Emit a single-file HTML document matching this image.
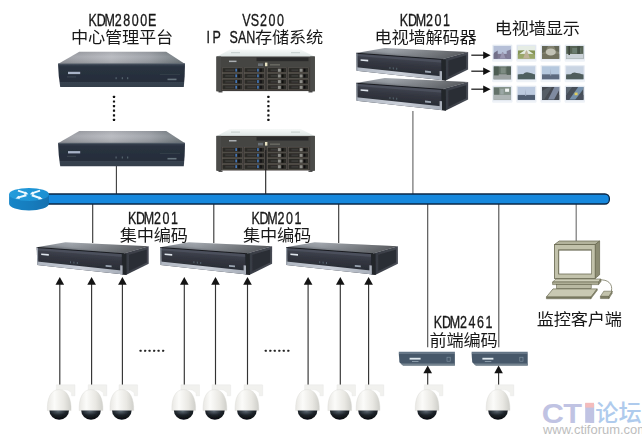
<!DOCTYPE html>
<html lang="zh"><head><meta charset="utf-8"><title>KDM 监控系统组网图</title>
<style>
html,body{margin:0;padding:0;background:#fff;}
body{width:642px;height:434px;overflow:hidden;font-family:"Liberation Sans","Noto Sans CJK SC",sans-serif;}
svg{display:block;}
.la{font-family:"Liberation Sans","Noto Sans CJK SC",sans-serif;fill:#161616;stroke:#161616;stroke-width:.3px;vector-effect:non-scaling-stroke;}
.zh{font-family:"Liberation Sans","Noto Sans CJK SC",sans-serif;fill:#161616;}
</style></head><body>
<svg width="642" height="434" viewBox="0 0 642 434">
<defs>
<linearGradient id="gLid" x1="0" y1="0" x2="1" y2="0"><stop offset="0" stop-color="#96989f"/><stop offset=".42" stop-color="#b7b9bf"/><stop offset=".72" stop-color="#9da1a8"/><stop offset="1" stop-color="#6b7479"/></linearGradient>
<linearGradient id="gLidV" x1="0" y1="0" x2="0" y2="1"><stop offset="0" stop-color="#000" stop-opacity=".07"/><stop offset=".4" stop-color="#fff" stop-opacity=".06"/><stop offset="1" stop-color="#000" stop-opacity=".13"/></linearGradient>
<filter id="soft" x="-5%" y="-10%" width="110%" height="120%"><feGaussianBlur stdDeviation=".4"/></filter>
<linearGradient id="gFront" x1="0" y1="0" x2="0" y2="1"><stop offset="0" stop-color="#3a4453"/><stop offset=".14" stop-color="#2a3240"/><stop offset=".77" stop-color="#252d3a"/><stop offset=".79" stop-color="#37424f"/><stop offset="1" stop-color="#343e4b"/></linearGradient>
<linearGradient id="gSLid" x1="0" y1="0" x2="0" y2="1"><stop offset="0" stop-color="#f6f9f8"/><stop offset="1" stop-color="#dde5e4"/></linearGradient>
<linearGradient id="gTop201" gradientUnits="userSpaceOnUse" x1="92" y1="243" x2="91" y2="252"><stop offset="0" stop-color="#a9aeb5"/><stop offset=".7" stop-color="#92979e"/><stop offset="1" stop-color="#70757c"/></linearGradient>
<linearGradient id="gTop201H" gradientUnits="userSpaceOnUse" x1="72" y1="0" x2="148" y2="0"><stop offset="0" stop-color="#000" stop-opacity="0"/><stop offset="1" stop-color="#000" stop-opacity=".5"/></linearGradient>
<linearGradient id="gFront201" gradientUnits="userSpaceOnUse" x1="80" y1="250" x2="78.6" y2="270"><stop offset="0" stop-color="#434753"/><stop offset=".45" stop-color="#333640"/><stop offset="1" stop-color="#272a32"/></linearGradient>
<linearGradient id="gSide201" x1="0" y1="0" x2="1" y2="0"><stop offset="0" stop-color="#363a42"/><stop offset="1" stop-color="#474b54"/></linearGradient>
<linearGradient id="gSilver" x1="0" y1="0" x2="1" y2="0"><stop offset="0" stop-color="#aeb5c0"/><stop offset=".5" stop-color="#cbd0d9"/><stop offset="1" stop-color="#a6adb8"/></linearGradient>
<linearGradient id="gCam" x1="0" y1="0" x2="1" y2="0"><stop offset="0" stop-color="#e9e8e4"/><stop offset=".3" stop-color="#fbfbf9"/><stop offset=".7" stop-color="#e9e8e3"/><stop offset="1" stop-color="#cfcfca"/></linearGradient>
<radialGradient id="gDome" cx=".45" cy=".1" r=".9"><stop offset="0" stop-color="#5a6670"/><stop offset=".45" stop-color="#1d2329"/><stop offset="1" stop-color="#07090b"/></radialGradient>
<linearGradient id="gRtTop" x1="0" y1="0" x2="1" y2="0"><stop offset="0" stop-color="#259cdb"/><stop offset="1" stop-color="#1a8fd2"/></linearGradient>
<linearGradient id="gRtSide" x1="0" y1="0" x2="1" y2="0"><stop offset="0" stop-color="#1a86c8"/><stop offset=".5" stop-color="#157dbe"/><stop offset="1" stop-color="#1271b0"/></linearGradient>

<g id="box2800">
<path d="M79.3,51.7 L166.2,51.7 L185,64 L58,64 Z" fill="url(#gLid)"/><path d="M79.3,51.7 L166.2,51.7 L185,64 L58,64 Z" fill="url(#gLidV)"/>
<path d="M58,63.8 L185,63.6 Q185,76 183.8,87 L60.2,87 Q58.4,76 58,63.8 Z" fill="url(#gFront)"/>
<path d="M58,63.9 L185,63.7" stroke="#6a727c" stroke-width=".7" fill="none"/>
<rect x="68" y="71.8" width="12.2" height="2.3" fill="#a8b3c7"/>
<rect x="67" y="76.6" width="9" height=".7" fill="#46525a"/>
<rect x="115.6" y="77.2" width="1" height="2" fill="#5d6d78"/><rect x="121.8" y="77.2" width="1" height="2" fill="#5d6d78"/><rect x="127.2" y="77.2" width="1" height="2" fill="#5d6d78"/>
<rect x="167.5" y="78.6" width="9" height="1.6" fill="#66747e"/>
<rect x="160" y="74" width="20" height=".7" fill="#39444b"/>
</g>
<g id="vs200"><path d="M230,49.6 L300.5,49.6 L314.8,56.7 L216.5,56.7 Z" fill="url(#gSLid)"/><rect x="231" y="52.2" width="9" height="1" fill="#c3cccb"/><rect x="291" y="52.2" width="9" height="1" fill="#c3cccb"/><rect x="216.4" y="56.5" width="98.4" height="34.6" fill="#3d3b38"/><rect x="216.5" y="56.5" width="4.6" height="34.9" fill="#4b4b49"/><rect x="310.2" y="56.5" width="4.6" height="34.9" fill="#4b4b49"/><rect x="221" y="57.2" width="89" height="10.4" fill="#454543"/><rect x="256.5" y="57.6" width="52" height="3.6" fill="#2c2c2b"/><rect x="229" y="60.6" width="7.5" height="1.5" fill="#a9adb0"/><rect x="258" y="63.4" width="5" height="2.6" fill="#6b7076"/><rect x="265" y="62.6" width="2.4" height="3.6" fill="#e9e3c4"/><rect x="270" y="64" width="10" height="1.6" fill="#66665f"/><rect x="222.2" y="67.8" width="20.4" height="4.9" fill="#2b2926" stroke="#615d55" stroke-width=".6"/><rect x="235.4" y="68.7" width="1.5" height="2.9" fill="#477fc8"/><rect x="238.3" y="68.7" width="1.6" height="3.1" fill="#111"/><rect x="225.2" y="69.3" width="9" height="1.9" fill="#3a3a37"/><rect x="244.2" y="67.8" width="20.2" height="4.9" fill="#2b2926" stroke="#615d55" stroke-width=".6"/><rect x="257.2" y="68.7" width="1.5" height="2.9" fill="#477fc8"/><rect x="260.1" y="68.7" width="1.6" height="3.1" fill="#111"/><rect x="247.2" y="69.3" width="9" height="1.9" fill="#3a3a37"/><rect x="267.6" y="67.8" width="19.0" height="4.9" fill="#2b2926" stroke="#615d55" stroke-width=".6"/><rect x="277.8" y="68.7" width="3" height="3.1" fill="#8d8d88"/><rect x="282.0" y="68.7" width="1.6" height="3.1" fill="#111"/><rect x="270.6" y="69.3" width="7" height="1.9" fill="#3a3a37"/><rect x="288.4" y="67.8" width="20.0" height="4.9" fill="#2b2926" stroke="#615d55" stroke-width=".6"/><rect x="299.6" y="68.7" width="3" height="3.1" fill="#8d8d88"/><rect x="303.8" y="68.7" width="1.6" height="3.1" fill="#111"/><rect x="291.4" y="69.3" width="7" height="1.9" fill="#3a3a37"/><rect x="222.2" y="73.5" width="20.4" height="4.9" fill="#2b2926" stroke="#615d55" stroke-width=".6"/><rect x="235.4" y="74.4" width="1.5" height="2.9" fill="#477fc8"/><rect x="238.3" y="74.4" width="1.6" height="3.1" fill="#111"/><rect x="225.2" y="75.0" width="9" height="1.9" fill="#3a3a37"/><rect x="244.2" y="73.5" width="20.2" height="4.9" fill="#2b2926" stroke="#615d55" stroke-width=".6"/><rect x="257.2" y="74.4" width="1.5" height="2.9" fill="#477fc8"/><rect x="260.1" y="74.4" width="1.6" height="3.1" fill="#111"/><rect x="247.2" y="75.0" width="9" height="1.9" fill="#3a3a37"/><rect x="267.6" y="73.5" width="19.0" height="4.9" fill="#2b2926" stroke="#615d55" stroke-width=".6"/><rect x="277.8" y="74.4" width="3" height="3.1" fill="#8d8d88"/><rect x="282.0" y="74.4" width="1.6" height="3.1" fill="#111"/><rect x="270.6" y="75.0" width="7" height="1.9" fill="#3a3a37"/><rect x="288.4" y="73.5" width="20.0" height="4.9" fill="#2b2926" stroke="#615d55" stroke-width=".6"/><rect x="299.6" y="74.4" width="3" height="3.1" fill="#8d8d88"/><rect x="303.8" y="74.4" width="1.6" height="3.1" fill="#111"/><rect x="291.4" y="75.0" width="7" height="1.9" fill="#3a3a37"/><rect x="222.2" y="79.2" width="20.4" height="4.9" fill="#2b2926" stroke="#615d55" stroke-width=".6"/><rect x="235.4" y="80.1" width="1.5" height="2.9" fill="#477fc8"/><rect x="238.3" y="80.1" width="1.6" height="3.1" fill="#111"/><rect x="225.2" y="80.7" width="9" height="1.9" fill="#3a3a37"/><rect x="244.2" y="79.2" width="20.2" height="4.9" fill="#2b2926" stroke="#615d55" stroke-width=".6"/><rect x="257.2" y="80.1" width="1.5" height="2.9" fill="#477fc8"/><rect x="260.1" y="80.1" width="1.6" height="3.1" fill="#111"/><rect x="247.2" y="80.7" width="9" height="1.9" fill="#3a3a37"/><rect x="267.6" y="79.2" width="19.0" height="4.9" fill="#2b2926" stroke="#615d55" stroke-width=".6"/><rect x="277.8" y="80.1" width="3" height="3.1" fill="#8d8d88"/><rect x="282.0" y="80.1" width="1.6" height="3.1" fill="#111"/><rect x="270.6" y="80.7" width="7" height="1.9" fill="#3a3a37"/><rect x="288.4" y="79.2" width="20.0" height="4.9" fill="#2b2926" stroke="#615d55" stroke-width=".6"/><rect x="299.6" y="80.1" width="3" height="3.1" fill="#8d8d88"/><rect x="303.8" y="80.1" width="1.6" height="3.1" fill="#111"/><rect x="291.4" y="80.7" width="7" height="1.9" fill="#3a3a37"/><rect x="222.2" y="84.9" width="20.4" height="4.9" fill="#2b2926" stroke="#615d55" stroke-width=".6"/><rect x="235.4" y="85.8" width="1.5" height="2.9" fill="#477fc8"/><rect x="238.3" y="85.8" width="1.6" height="3.1" fill="#111"/><rect x="225.2" y="86.4" width="9" height="1.9" fill="#3a3a37"/><rect x="244.2" y="84.9" width="20.2" height="4.9" fill="#2b2926" stroke="#615d55" stroke-width=".6"/><rect x="257.2" y="85.8" width="1.5" height="2.9" fill="#477fc8"/><rect x="260.1" y="85.8" width="1.6" height="3.1" fill="#111"/><rect x="247.2" y="86.4" width="9" height="1.9" fill="#3a3a37"/><rect x="267.6" y="84.9" width="19.0" height="4.9" fill="#2b2926" stroke="#615d55" stroke-width=".6"/><rect x="277.8" y="85.8" width="3" height="3.1" fill="#8d8d88"/><rect x="282.0" y="85.8" width="1.6" height="3.1" fill="#111"/><rect x="270.6" y="86.4" width="7" height="1.9" fill="#3a3a37"/><rect x="288.4" y="84.9" width="20.0" height="4.9" fill="#2b2926" stroke="#615d55" stroke-width=".6"/><rect x="299.6" y="85.8" width="3" height="3.1" fill="#8d8d88"/><rect x="303.8" y="85.8" width="1.6" height="3.1" fill="#111"/><rect x="291.4" y="86.4" width="7" height="1.9" fill="#3a3a37"/><rect x="218.5" y="91.2" width="4" height="1.2" fill="#2a2a2a"/><rect x="308.5" y="91.2" width="4" height="1.2" fill="#2a2a2a"/></g>
<g id="box201">
<path d="M36.8,247.2 L65.4,242.3 L148.7,246.2 L123.8,253.4 Z" fill="url(#gTop201)"/>
<path d="M36.8,247.2 L65.4,242.3 L148.7,246.2 L123.8,253.4 Z" fill="url(#gTop201H)"/>
<path d="M123.8,253.4 L148.7,246.2 L148.7,263.7 L126.4,274.8 L123.8,274.6 Z" fill="url(#gSide201)"/>
<path d="M129,254.8 L146.8,249.6 L146.8,262.6 L129,271 Z" fill="#2b2e35"/>
<path d="M36.8,247.2 L123.8,253.4 L123.8,274.6 L37.2,265 Z" fill="url(#gFront201)"/>
<path d="M36.8,247.2 L123.8,253.4 L123.8,257 L36.8,250.2 Z" fill="#4b505c"/>
<path d="M36.8,247 L123.8,253.2 L123.8,254.2 L36.8,248 Z" fill="#1b1d22"/>
<path d="M37,261.6 L123.8,270.8 L123.8,274.6 L37.2,265 Z" fill="url(#gSilver)"/>
<path d="M37.4,247.6 L37.7,264.6" stroke="#9aa1ab" stroke-width="1.1" fill="none"/>
<path d="M121.8,253.2 L126.4,254 L126.6,275 L122,274.4 Z" fill="#23262c"/>
<path d="M120.2,265.2 L122.6,265.5 L122.6,274.5 L120.2,274.2 Z" fill="#aab0bb"/>
<path d="M41.2,253.5 L48.8,254.1 L48.8,255.7 L41.2,255.1 Z" fill="#dfe5ec"/>
<path d="M70,261.2 L71,261.3 L71,263.3 L70,263.2 Z M73.4,261.6 L74.4,261.7 L74.4,263.7 L73.4,263.6 Z M76.8,262 L77.8,262.1 L77.8,264.1 L76.8,264 Z" fill="#56646e"/>
<path d="M105.6,264.9 L111.6,265.5 L111.6,267.3 L105.6,266.7 Z" fill="#9aa4b0"/>
</g>
<g id="box2461">
<path d="M398.8,351.7 L454.9,351.7 L454.9,353.8 L398.8,353.8 Z" fill="#647486"/>
<path d="M398.8,353.6 L454.9,353.6 L454.9,365.5 L403,365.5 L399.4,362.2 Z" fill="#47586a"/>
<path d="M400.4,363.4 L454.9,363.4 L454.9,365.5 L403,365.5 Z" fill="#74838f"/>
<rect x="409.6" y="357.8" width="11" height="1.8" fill="#dfe8ee"/>
<rect x="412" y="361" width="6.5" height=".9" fill="#8fa0ad"/>
<rect x="447" y="357.2" width="3.2" height="4" fill="none" stroke="#8496a3" stroke-width=".6"/>
</g>
<g id="cam">
<path d="M-3.4,384.8 L15.2,384.8 L15.2,395.8 L11.8,395.8 L11.8,392.8 Q8.6,389.2 3.6,389.4 L-3.4,390 Z" fill="#f1f1ee" stroke="#e6e6e2" stroke-width=".4"/>
<path d="M-12.4,410.6 C-12.9,399 -9.4,389.6 -0.6,389.6 C7.6,389.6 11.8,399 11.3,410.6 Z" fill="url(#gCam)" stroke="#d9d9d5" stroke-width=".4"/>
<path d="M-10.4,410.4 A9.8,9.4 0 0 0 9.2,410.4 Z" fill="url(#gDome)"/>
</g>
<path id="ah" d="M0,0 L4.3,7.7 L-4.3,7.7 Z" fill="#141414"/>
<path id="ahr" d="M0,0 L-7.4,3.8 L-7.4,-3.8 Z" fill="#111"/>
</defs>
<rect width="642" height="434" fill="#fff"/>
<path d="M116.4,165 L116.4,194" stroke="#3c3c3c" stroke-width="1.1" fill="none"/>
<path d="M412.9,111 L412.9,194" stroke="#6e6e6e" stroke-width="1.2" fill="none"/>
<path d="M92.7,204 L92.7,243" stroke="#333" stroke-width="1.1" fill="none"/>
<path d="M213.8,204 L213.8,243" stroke="#333" stroke-width="1.1" fill="none"/>
<path d="M338.7,204 L338.7,243" stroke="#333" stroke-width="1.1" fill="none"/>
<path d="M427.7,204 L427.7,347.2" stroke="#4a4a4a" stroke-width="1.1" fill="none"/>
<path d="M498.8,204 L498.8,347.2" stroke="#4a4a4a" stroke-width="1.1" fill="none"/>
<path d="M576.2,204 L576.2,242" stroke="#777" stroke-width="1.2" fill="none"/>
<rect x="40" y="194" width="569.4" height="10" rx="4.5" ry="4.5" fill="#1688dd" stroke="#0b2746" stroke-width="1.3"/>
<g id="router" filter="url(#soft)">
<path d="M9.1,194.4 L9.1,203.8 A19.9,6.6 0 0 0 48.9,203.8 L48.9,194.4 Z" fill="url(#gRtSide)"/>
<ellipse cx="29" cy="194.4" rx="19.9" ry="6.5" fill="url(#gRtTop)"/>
<g stroke="#eef9ff" stroke-width="2" fill="none" stroke-linecap="butt">
<path d="M18,190.6 L26.4,193.4 M40,190.6 L31.8,193.4 M17.6,197.6 L26.4,195.2 M40.6,198.2 L31.8,195.2"/>
</g>
<g fill="#eef9ff"><path d="M28.4,194.2 L23.8,194.7 L25.4,191.6 Z M29.8,194.2 L34.4,194.7 L32.8,191.6 Z M15.4,198.4 L20,198.8 L18.8,195.8 Z M42.8,199 L38.2,199.4 L39.4,196.4 Z"/></g>
</g>
<use filter="url(#soft)" href="#box2800"/>
<use filter="url(#soft)" href="#box2800" transform="translate(0,79.3)"/>
<use filter="url(#soft)" href="#vs200"/>
<use filter="url(#soft)" href="#vs200" transform="translate(0,79.4)"/>
<path d="M265.7,150 L265.7,194" stroke="#222" stroke-width="1.1" fill="none"/>
<rect x="112.9" y="95.8" width="2.2" height="2.2" rx=".5" fill="#111"/>
<rect x="112.9" y="100.4" width="2.2" height="2.2" rx=".5" fill="#111"/>
<rect x="112.9" y="105.0" width="2.2" height="2.2" rx=".5" fill="#111"/>
<rect x="112.9" y="109.6" width="2.2" height="2.2" rx=".5" fill="#111"/>
<rect x="112.9" y="114.2" width="2.2" height="2.2" rx=".5" fill="#111"/>
<rect x="112.9" y="118.8" width="2.2" height="2.2" rx=".5" fill="#111"/>
<rect x="267.3" y="95.8" width="2.2" height="2.2" rx=".5" fill="#111"/>
<rect x="267.3" y="100.4" width="2.2" height="2.2" rx=".5" fill="#111"/>
<rect x="267.3" y="105.0" width="2.2" height="2.2" rx=".5" fill="#111"/>
<rect x="267.3" y="109.6" width="2.2" height="2.2" rx=".5" fill="#111"/>
<rect x="267.3" y="114.2" width="2.2" height="2.2" rx=".5" fill="#111"/>
<rect x="267.3" y="118.8" width="2.2" height="2.2" rx=".5" fill="#111"/>
<use filter="url(#soft)" href="#box201" transform="translate(319.4,-194.3)"/>
<use filter="url(#soft)" href="#box201" transform="translate(319.4,-164.3)"/>
<use filter="url(#soft)" href="#box201" transform="translate(0,0)"/>
<use filter="url(#soft)" href="#box201" transform="translate(123.4,0)"/>
<use filter="url(#soft)" href="#box201" transform="translate(249.2,0)"/>
<use filter="url(#soft)" href="#box2461"/>
<use filter="url(#soft)" href="#box2461" transform="translate(72.8,0)"/>
<path d="M471.3,55.2 L484,55.2" stroke="#222" stroke-width="1.3" fill="none"/>
<use href="#ahr" transform="translate(490.6,55.2)"/>
<path d="M471.3,71.2 L484,71.2" stroke="#222" stroke-width="1.3" fill="none"/>
<use href="#ahr" transform="translate(490.6,71.2)"/>
<path d="M471.3,89.2 L484,89.2" stroke="#222" stroke-width="1.3" fill="none"/>
<use href="#ahr" transform="translate(490.6,89.2)"/>
<g filter="url(#soft)" transform="translate(493.7,46.0)"><rect x="-1.6" y="-1.4" width="20.4" height="17.200000000000003" rx="1.2" fill="#eef2f7"/><rect x="-.8" y="-.7" width="18.8" height="14.3" fill="#dfe5ee"/><rect width="17.2" height="12.8" fill="#aab6d2"/><rect y="7.9" width="17.2" height="4.9" fill="#6d6684"/><svg x="0" y="0" width="17.2" height="12.8" viewBox="0 0 17.2 12.8"><path d="M0,7 L4,4.5 L4,12.8 L0,12.8 Z" fill="#5d5a78"/><path d="M13,5 L17.2,3.5 L17.2,12.8 L13,12.8 Z" fill="#6f6a8a"/><path d="M6,12.8 L8.4,6 L9.4,6 L12,12.8 Z" fill="#8b87a6"/></svg><rect width="17.2" height="12.8" fill="#fff" opacity=".13"/></g>
<g filter="url(#soft)" transform="translate(517.8,46.0)"><rect x="-1.6" y="-1.4" width="20.4" height="17.200000000000003" rx="1.2" fill="#eef2f7"/><rect x="-.8" y="-.7" width="18.8" height="14.3" fill="#dfe5ee"/><rect width="17.2" height="12.8" fill="#e3ebe2"/><rect y="7.9" width="17.2" height="4.9" fill="#8b9a54"/><svg x="0" y="0" width="17.2" height="12.8" viewBox="0 0 17.2 12.8"><path d="M5.2,12.8 L8.2,4.6 L9.2,4.6 L12.2,12.8 Z" fill="#b5a78a"/><path d="M0,4.5 L7,4.2 L0,9 Z" fill="#73853f"/><path d="M17.2,4.5 L10.4,4.2 L17.2,9 Z" fill="#73853f"/></svg><rect width="17.2" height="12.8" fill="#fff" opacity=".13"/></g>
<g filter="url(#soft)" transform="translate(542.0,46.0)"><rect x="-1.6" y="-1.4" width="20.4" height="17.200000000000003" rx="1.2" fill="#eef2f7"/><rect x="-.8" y="-.7" width="18.8" height="14.3" fill="#dfe5ee"/><rect width="17.2" height="12.8" fill="#70705a"/><rect y="7.9" width="17.2" height="4.9" fill="#5d5d48"/><svg x="0" y="0" width="17.2" height="12.8" viewBox="0 0 17.2 12.8"><ellipse cx="8.8" cy="6" rx="5" ry="3.6" fill="#b9b9aa"/><path d="M0,0 L6,0 L3,6 L0,7 Z" fill="#4f5240"/><path d="M17.2,0 L12,0 L14,5 L17.2,6 Z" fill="#4f5240"/></svg><rect width="17.2" height="12.8" fill="#fff" opacity=".13"/></g>
<g filter="url(#soft)" transform="translate(566.2,46.0)"><rect x="-1.6" y="-1.4" width="20.4" height="17.200000000000003" rx="1.2" fill="#eef2f7"/><rect x="-.8" y="-.7" width="18.8" height="14.3" fill="#dfe5ee"/><rect width="17.2" height="12.8" fill="#3e4e3c"/><rect y="7.9" width="17.2" height="4.9" fill="#c3cbd2"/><svg x="0" y="0" width="17.2" height="12.8" viewBox="0 0 17.2 12.8"><rect x="2.2" y="0" width="1.6" height="9" fill="#1f2a20"/><rect x="6" y="2" width="9" height="5" fill="#56685a"/><rect x="11" y="0" width="3" height="8" fill="#2a382c"/></svg><rect width="17.2" height="12.8" fill="#fff" opacity=".13"/></g>
<g filter="url(#soft)" transform="translate(493.7,66.4)"><rect x="-1.6" y="-1.4" width="20.4" height="17.200000000000003" rx="1.2" fill="#eef2f7"/><rect x="-.8" y="-.7" width="18.8" height="14.3" fill="#dfe5ee"/><rect width="17.2" height="12.8" fill="#4d5d52"/><rect y="7.9" width="17.2" height="4.9" fill="#8d9494"/><svg x="0" y="0" width="17.2" height="12.8" viewBox="0 0 17.2 12.8"><rect x="0" y="0" width="5" height="9" fill="#34453a"/><rect x="7" y="1" width="5" height="6" fill="#6a7a70"/><rect x="13" y="0" width="4.2" height="8.5" fill="#3c4c42"/></svg><rect width="17.2" height="12.8" fill="#fff" opacity=".13"/></g>
<g filter="url(#soft)" transform="translate(517.8,66.4)"><rect x="-1.6" y="-1.4" width="20.4" height="17.200000000000003" rx="1.2" fill="#eef2f7"/><rect x="-.8" y="-.7" width="18.8" height="14.3" fill="#dfe5ee"/><rect width="17.2" height="12.8" fill="#bccbdf"/><rect y="7.9" width="17.2" height="4.9" fill="#3c5252"/><svg x="0" y="0" width="17.2" height="12.8" viewBox="0 0 17.2 12.8"><path d="M0,9 Q3,7.4 5,8 Q8,4.6 11.6,6.4 Q14.6,7 17.2,8.6 L17.2,12.8 L0,12.8 Z" fill="#36494a"/></svg><rect width="17.2" height="12.8" fill="#fff" opacity=".13"/></g>
<g filter="url(#soft)" transform="translate(542.0,66.4)"><rect x="-1.6" y="-1.4" width="20.4" height="17.200000000000003" rx="1.2" fill="#eef2f7"/><rect x="-.8" y="-.7" width="18.8" height="14.3" fill="#dfe5ee"/><rect width="17.2" height="12.8" fill="#abc0da"/><rect y="7.9" width="17.2" height="4.9" fill="#4b5b72"/><svg x="0" y="0" width="17.2" height="12.8" viewBox="0 0 17.2 12.8"><path d="M8.1,10 L8.7,1.6 L9.3,10 Z" fill="#8f9db4"/><path d="M0,9.4 Q5,8 8.6,9 Q13,8 17.2,9.4 L17.2,12.8 L0,12.8 Z" fill="#46566c"/></svg><rect width="17.2" height="12.8" fill="#fff" opacity=".13"/></g>
<g filter="url(#soft)" transform="translate(566.2,66.4)"><rect x="-1.6" y="-1.4" width="20.4" height="17.200000000000003" rx="1.2" fill="#eef2f7"/><rect x="-.8" y="-.7" width="18.8" height="14.3" fill="#dfe5ee"/><rect width="17.2" height="12.8" fill="#c3cfdf"/><rect y="7.9" width="17.2" height="4.9" fill="#3b4b49"/><svg x="0" y="0" width="17.2" height="12.8" viewBox="0 0 17.2 12.8"><path d="M0,9.4 Q2,8.4 4,8.6 Q7,5 10.4,6.6 Q14,6.6 17.2,9 L17.2,12.8 L0,12.8 Z" fill="#364644"/></svg><rect width="17.2" height="12.8" fill="#fff" opacity=".13"/></g>
<g filter="url(#soft)" transform="translate(493.7,87.0)"><rect x="-1.6" y="-1.4" width="20.4" height="17.200000000000003" rx="1.2" fill="#eef2f7"/><rect x="-.8" y="-.7" width="18.8" height="14.3" fill="#dfe5ee"/><rect width="17.2" height="12.8" fill="#73837a"/><rect y="7.9" width="17.2" height="4.9" fill="#a3abab"/><svg x="0" y="0" width="17.2" height="12.8" viewBox="0 0 17.2 12.8"><rect x="0" y="1" width="5.4" height="6.6" fill="#4d5d55"/><rect x="11.4" y="1.6" width="4" height="3.2" fill="#f1f4f4"/><rect x="6.6" y="2" width="3.4" height="5.4" fill="#8d9a98"/></svg><rect width="17.2" height="12.8" fill="#fff" opacity=".13"/></g>
<g filter="url(#soft)" transform="translate(517.8,87.0)"><rect x="-1.6" y="-1.4" width="20.4" height="17.200000000000003" rx="1.2" fill="#eef2f7"/><rect x="-.8" y="-.7" width="18.8" height="14.3" fill="#dfe5ee"/><rect width="17.2" height="12.8" fill="#b3c3db"/><rect y="7.9" width="17.2" height="4.9" fill="#3b4b62"/><svg x="0" y="0" width="17.2" height="12.8" viewBox="0 0 17.2 12.8"><path d="M7.3,10 L7.9,2 L8.5,10 Z" fill="#8d9bb4"/><path d="M0,9.2 Q5,8.2 8,9 Q13,8.2 17.2,9.6 L17.2,12.8 L0,12.8 Z" fill="#36465c"/></svg><rect width="17.2" height="12.8" fill="#fff" opacity=".13"/></g>
<g filter="url(#soft)" transform="translate(542.0,87.0)"><rect x="-1.6" y="-1.4" width="20.4" height="17.200000000000003" rx="1.2" fill="#eef2f7"/><rect x="-.8" y="-.7" width="18.8" height="14.3" fill="#dfe5ee"/><rect width="17.2" height="12.8" fill="#2a3038"/><rect y="7.9" width="17.2" height="4.9" fill="#2c333b"/><svg x="0" y="0" width="17.2" height="12.8" viewBox="0 0 17.2 12.8"><path d="M6,12.8 L12.4,0 L17.2,0 L17.2,3 L12,12.8 Z" fill="#6c7a92"/><path d="M0,4 L7,0 L10,0 L2,12.8 L0,12.8 Z" fill="#3c4650"/></svg><rect width="17.2" height="12.8" fill="#fff" opacity=".13"/></g>
<g filter="url(#soft)" transform="translate(566.2,87.0)"><rect x="-1.6" y="-1.4" width="20.4" height="17.200000000000003" rx="1.2" fill="#eef2f7"/><rect x="-.8" y="-.7" width="18.8" height="14.3" fill="#dfe5ee"/><rect width="17.2" height="12.8" fill="#2b3541"/><rect y="7.9" width="17.2" height="4.9" fill="#2d3743"/><svg x="0" y="0" width="17.2" height="12.8" viewBox="0 0 17.2 12.8"><path d="M3,12.8 L12,0 L17.2,0 L17.2,2 L9,12.8 Z" fill="#61809f"/><rect x="8.4" y="5.6" width="3" height="2.6" fill="#d9c548"/><path d="M0,0 L6,0 L0,8 Z" fill="#46525e"/></svg><rect width="17.2" height="12.8" fill="#fff" opacity=".13"/></g>
<path d="M59.8,283 L59.8,386" stroke="#333" stroke-width="1.15" fill="none"/>
<use href="#ah" transform="translate(59.8,277)"/>
<use filter="url(#soft)" href="#cam" transform="translate(59.8,0)"/>
<path d="M91.6,283 L91.6,386" stroke="#333" stroke-width="1.15" fill="none"/>
<use href="#ah" transform="translate(91.6,277)"/>
<use filter="url(#soft)" href="#cam" transform="translate(91.6,0)"/>
<path d="M122.4,283 L122.4,386" stroke="#333" stroke-width="1.15" fill="none"/>
<use href="#ah" transform="translate(122.4,277)"/>
<use filter="url(#soft)" href="#cam" transform="translate(122.4,0)"/>
<path d="M184.3,283 L184.3,386" stroke="#333" stroke-width="1.15" fill="none"/>
<use href="#ah" transform="translate(184.3,277)"/>
<use filter="url(#soft)" href="#cam" transform="translate(184.3,0)"/>
<path d="M215.5,283 L215.5,386" stroke="#333" stroke-width="1.15" fill="none"/>
<use href="#ah" transform="translate(215.5,277)"/>
<use filter="url(#soft)" href="#cam" transform="translate(215.5,0)"/>
<path d="M247.5,283 L247.5,386" stroke="#333" stroke-width="1.15" fill="none"/>
<use href="#ah" transform="translate(247.5,277)"/>
<use filter="url(#soft)" href="#cam" transform="translate(247.5,0)"/>
<path d="M308.1,283 L308.1,386" stroke="#333" stroke-width="1.15" fill="none"/>
<use href="#ah" transform="translate(308.1,277)"/>
<use filter="url(#soft)" href="#cam" transform="translate(308.1,0)"/>
<path d="M340.3,283 L340.3,386" stroke="#333" stroke-width="1.15" fill="none"/>
<use href="#ah" transform="translate(340.3,277)"/>
<use filter="url(#soft)" href="#cam" transform="translate(340.3,0)"/>
<path d="M368.6,283 L368.6,386" stroke="#333" stroke-width="1.15" fill="none"/>
<use href="#ah" transform="translate(368.6,277)"/>
<use filter="url(#soft)" href="#cam" transform="translate(368.6,0)"/>
<path d="M427.7,372 L427.7,386" stroke="#333" stroke-width="1.15" fill="none"/>
<use href="#ah" transform="translate(427.7,365.6)"/>
<use filter="url(#soft)" href="#cam" transform="translate(427.7,0)"/>
<path d="M498.6,372 L498.6,386" stroke="#333" stroke-width="1.15" fill="none"/>
<use href="#ah" transform="translate(498.6,365.6)"/>
<use filter="url(#soft)" href="#cam" transform="translate(498.6,0)"/>
<rect x="139.6" y="349.8" width="2" height="2" rx=".4" fill="#222"/>
<rect x="144.1" y="349.8" width="2" height="2" rx=".4" fill="#222"/>
<rect x="148.6" y="349.8" width="2" height="2" rx=".4" fill="#222"/>
<rect x="153.1" y="349.8" width="2" height="2" rx=".4" fill="#222"/>
<rect x="157.6" y="349.8" width="2" height="2" rx=".4" fill="#222"/>
<rect x="162.1" y="349.8" width="2" height="2" rx=".4" fill="#222"/>
<rect x="264.8" y="349.8" width="2" height="2" rx=".4" fill="#222"/>
<rect x="269.3" y="349.8" width="2" height="2" rx=".4" fill="#222"/>
<rect x="273.8" y="349.8" width="2" height="2" rx=".4" fill="#222"/>
<rect x="278.3" y="349.8" width="2" height="2" rx=".4" fill="#222"/>
<rect x="282.8" y="349.8" width="2" height="2" rx=".4" fill="#222"/>
<rect x="287.3" y="349.8" width="2" height="2" rx=".4" fill="#222"/>
<g id="pc">
<path d="M554.4,244.6 L559.2,241 L599.6,241 L595.2,244.6 Z" fill="#b3b39c" stroke="#66664e" stroke-width=".7"/>
<path d="M595.2,244.6 L599.6,241 L599.6,274.8 L595.2,278.4 Z" fill="#8b8b72" stroke="#66664e" stroke-width=".7"/>
<rect x="554.4" y="244.6" width="40.8" height="33.8" fill="#c2c2ab" stroke="#66664e" stroke-width=".8"/>
<rect x="558.2" y="249.4" width="33.6" height="25" fill="#6b6b55"/>
<rect x="559.2" y="250.6" width="32" height="23" fill="#fff"/>
<path d="M552.6,282 L556,279 L601,279 L598.6,282 Z" fill="#cfcfba" stroke="#66664e" stroke-width=".6"/>
<path d="M552.6,282 L598.6,282 L598.6,284.6 L552.6,284.6 Z" fill="#aeae96" stroke="#66664e" stroke-width=".6"/>
<path d="M598.6,282 L601,279 L601,281.6 L598.6,284.6 Z" fill="#8b8b72" stroke="#66664e" stroke-width=".5"/>
<rect x="556.6" y="284.6" width="34.6" height="4" fill="#b9b9a2" stroke="#66664e" stroke-width=".6"/>
<path d="M553,288.9 L597.2,288.9 L591,297 L546.4,297 Z" fill="#c9c9b3" stroke="#66664e" stroke-width=".7"/>
<path d="M546.4,297 L591,297 L591,298.8 L546.4,298.8 Z" fill="#7d7d65" stroke="#66664e" stroke-width=".5"/>
<path d="M591,297 L597.2,288.9 L597.2,290.4 L591,298.6 Z" fill="#8b8b72" stroke="#66664e" stroke-width=".5"/>
<path d="M599,280 C608,279 613,284 611.4,291.2" stroke="#77775f" stroke-width=".8" fill="none"/>
<path d="M600.4,296.4 L603.8,291.2 L612.2,291.2 L609,296.4 Z" fill="#c3c3ac" stroke="#66664e" stroke-width=".6"/>
<path d="M600.4,296.4 L609,296.4 L609,298.6 L600.4,298.6 Z" fill="#7d7d65" stroke="#66664e" stroke-width=".5"/>
<path d="M609,296.4 L612.2,291.2 L612.2,293.2 L609,298.4 Z" fill="#8b8b72" stroke="#66664e" stroke-width=".5"/>
</g>
<g opacity=".99">
<text class="la" transform="scale(0.8,1)" text-anchor="middle" x="115.81 126.44 137.06 147.69 158.31 168.94 179.56 190.19" y="26.2" font-size="15.6">KDM2800E</text>
<text class="zh" transform="scale(1.05,1)" text-anchor="middle" x="75.90 92.10 108.29 124.48 140.67 156.86" y="43.5" font-size="16.4">中心管理平台</text>
<text class="la" transform="scale(0.8,1)" text-anchor="middle" x="308.12 318.75 329.38 340.00 350.62" y="26.2" font-size="15.6">VS200</text>
<text class="la" transform="scale(0.8,1)" text-anchor="middle" x="260.31 270.94 281.56 292.19 302.81 313.44" y="43.2" font-size="15.6">IP SAN</text>
<text class="zh" transform="scale(1.05,1)" text-anchor="middle" x="250.95 267.14 283.33 299.52" y="43.5" font-size="16.4">存储系统</text>
<text class="la" transform="scale(0.8,1)" text-anchor="middle" x="505.00 515.62 526.25 536.88 547.50 558.12" y="26.2" font-size="15.6">KDM201</text>
<text class="zh" transform="scale(1.05,1)" text-anchor="middle" x="364.76 380.95 397.14 413.33 429.52 445.71" y="43.5" font-size="16.4">电视墙解码器</text>
<text class="zh" transform="scale(1.05,1)" text-anchor="middle" x="479.43 495.62 511.81 528.00 544.19" y="34.0" font-size="16.4">电视墙显示</text>
<text class="la" transform="scale(0.8,1)" text-anchor="middle" x="165.06 175.69 186.31 196.94 207.56 218.19" y="224.0" font-size="15.6">KDM201</text>
<text class="zh" transform="scale(1.05,1)" text-anchor="middle" x="122.29 138.48 154.67 170.86" y="241.0" font-size="16.4">集中编码</text>
<text class="la" transform="scale(0.8,1)" text-anchor="middle" x="319.44 330.06 340.69 351.31 361.94 372.56" y="224.0" font-size="15.6">KDM201</text>
<text class="zh" transform="scale(1.05,1)" text-anchor="middle" x="239.62 255.81 272.00 288.19" y="241.0" font-size="16.4">集中编码</text>
<text class="la" transform="scale(0.8,1)" text-anchor="middle" x="547.50 558.12 568.75 579.38 590.00 600.62 611.25" y="328.4" font-size="15.6">KDM2461</text>
<text class="zh" transform="scale(1.05,1)" text-anchor="middle" x="417.33 433.52 449.71 465.90" y="345.9" font-size="16.4">前端编码</text>
<text class="zh" transform="scale(1.05,1)" text-anchor="middle" x="519.43 535.62 551.81 568.00 584.19" y="325.0" font-size="16.4">监控客户端</text>
</g>
<g>
<text transform="scale(1.12,1)" x="483.7 502.9 524.6" y="422.8" font-family="Liberation Sans, sans-serif" font-weight="bold" font-size="27.4" fill="#c0c3e3">CTI</text>
<rect x="585.2" y="403.2" width="8.8" height="19.6" fill="#c0c3e3"/>
<rect x="585.2" y="402.8" width="8.8" height="4.8" fill="#f4bcbc"/>
<text x="595.2" y="421.4" font-family="Liberation Sans, Noto Sans CJK SC, sans-serif" font-weight="500" font-size="22.5" fill="#afcbed" textLength="46.4" lengthAdjust="spacingAndGlyphs">论坛</text>
<text x="543" y="434.4" font-family="Liberation Sans, sans-serif" font-size="12.8" fill="#bdbdbd" textLength="105" lengthAdjust="spacingAndGlyphs">www.ctiforum.com</text>
</g>
</svg></body></html>
